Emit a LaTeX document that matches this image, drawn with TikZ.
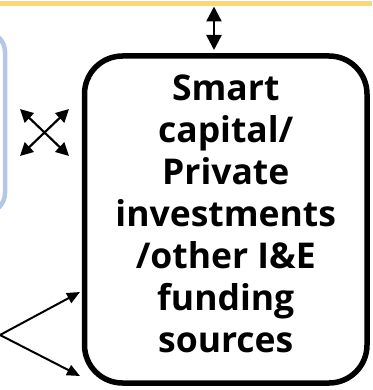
\documentclass[tikz,border=0pt]{standalone}
\usepackage{fontspec}
\setmainfont{Open Sans}
\usetikzlibrary{arrows.meta}
\definecolor{goldline}{HTML}{FFD966}
\definecolor{paleblue}{HTML}{B4C7E7}
\tikzset{
  fundbox/.style={draw, line width=5.5pt, rounded corners=38pt, minimum width=282.5pt,
    minimum height=327pt},
  fundtext/.style={align=center, inner sep=0pt, font=\fontsize{35.5}{42}\selectfont\bfseries},
  bigarrow/.style={line width=2.5pt, {Triangle[width=15pt,length=15pt]}-{Triangle[width=15pt,length=15pt]}},
  crossarrow/.style={line width=2.2pt, {Triangle[width=13pt,length=13pt]}-{Triangle[width=13pt,length=13pt]}},
  feedarrow/.style={line width=2pt, -{Triangle[width=11pt,length=13pt]}}
}
\begin{document}
\begin{tikzpicture}[x=1pt,y=-1pt]
\useasboundingbox (0,0) rectangle (372,390);

\draw[goldline, line width=5.5pt] (0,3.75) -- (372,3.75);
\draw[paleblue, line width=4.5pt, rounded corners=20pt] (-60,32) rectangle (5,213);

\node[fundbox] (fund) at (225.75,219.5) {};
\node[fundtext] (fundlabel) at ([yshift=6pt]fund.center) {Smart\\capital/\\Private\\investments\\/other I\&E\\funding\\sources};

\coordinate (gold) at (214,6.5);
\coordinate (goldend) at (214,50);
\draw[bigarrow] (gold) -- (goldend);

\coordinate (tl) at (20,109);
\coordinate (tr) at (69,109);
\coordinate (bl) at (20,156);
\coordinate (br) at (69,156);
\draw[crossarrow] (tl) -- (br);
\draw[crossarrow] (tr) -- (bl);

\coordinate (src) at (0,335);
\coordinate (inup) at (80,292);
\coordinate (indown) at (80,376);
\draw[feedarrow] (src) -- (inup);
\draw[feedarrow] (src) -- (indown);
\end{tikzpicture}
\end{document}
